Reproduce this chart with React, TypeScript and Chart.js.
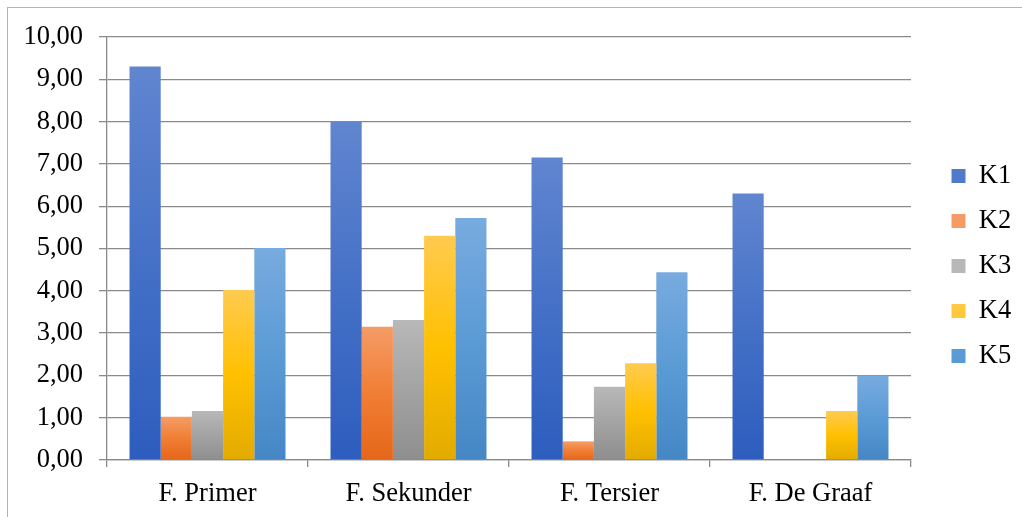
import React, { useEffect, useRef } from "react";
import { Chart, registerables } from "chart.js";

Chart.register(...registerables);

const categories = ["F. Primer", "F. Sekunder", "F. Tersier", "F. De Graaf"];
const seriesNames = ["K1", "K2", "K3", "K4", "K5"];
const k1 = [9.3, 8.0, 7.15, 6.3];
const k2 = [1.02, 3.15, 0.44, 0];
const k3 = [1.16, 3.31, 1.73, 0];
const k4 = [4.02, 5.3, 2.29, 1.16];
const k5 = [5.01, 5.72, 4.44, 2.0];
const seriesValues = [k1, k2, k3, k4, k5];
const yMin = 0;
const yMax = 10;
const yStep = 1;

// gradient stops per series: top, middle, bottom
const seriesGradients = [
  ["#6186D0", "#4470C6", "#2D5DBE"],
  ["#F59C66", "#F07E34", "#E5661A"],
  ["#B8B8B8", "#A3A3A3", "#8E8E8E"],
  ["#FFCB50", "#FFC000", "#E2AB00"],
  ["#78ABDF", "#5B9BD5", "#4586C5"],
];

const FONT = "'Liberation Serif', 'Times New Roman', serif";
const FS = 26.5;
const GRID = "#8a8a8a";

function gradientFor(idx: number) {
  return (ctx: any) => {
    const stops = seriesGradients[idx];
    if (ctx.type !== "data") return stops[1];
    const chart = ctx.chart;
    const ys = chart.scales && chart.scales.y;
    if (!ys || !chart.chartArea) return stops[1];
    const top = ys.getPixelForValue(ctx.raw);
    const bottom = ys.getPixelForValue(0);
    if (!isFinite(top) || !isFinite(bottom) || Math.abs(bottom - top) < 1) return stops[1];
    const g = chart.ctx.createLinearGradient(0, top, 0, bottom);
    g.addColorStop(0, stops[0]);
    g.addColorStop(0.5, stops[1]);
    g.addColorStop(1, stops[2]);
    return g;
  };
}

const layoutTweak = {
  id: "layoutTweak",
  beforeLayout(chart: any) {
    const lg = chart.legend;
    if (lg && !lg.__patched) {
      const orig = lg.fit.bind(lg);
      lg.fit = function () {
        orig();
        this.width = 111;
      };
      lg.__patched = true;
    }
  },
  afterLayout(chart: any) {
    const lg = chart.legend;
    if (lg) {
      lg.left += 22;
      lg.top -= 11;
      lg.bottom -= 11;
    }
  },
};

export default function App() {
  const canvasRef = useRef<HTMLCanvasElement | null>(null);

  useEffect(() => {
    if (!canvasRef.current) return;
    const chart = new Chart(canvasRef.current, {
      type: "bar",
      data: {
        labels: categories,
        datasets: seriesNames.map((name, i) => ({
          label: name,
          data: seriesValues[i],
          backgroundColor: gradientFor(i),
          borderWidth: 0,
          categoryPercentage: 0.776,
          barPercentage: 1,
        })),
      },
      options: {
        animation: false,
        responsive: true,
        maintainAspectRatio: false,
        layout: { padding: { left: 0, top: 37, right: 0, bottom: 0 } },
        plugins: {
          legend: {
            position: "right",
            align: "center",
            labels: {
              boxWidth: 14,
              boxHeight: 14,
              padding: 18.5,
              color: "#000",
              font: { family: FONT, size: FS },
            },
          },
          tooltip: { enabled: false },
        },
        scales: {
          x: {
            type: "category",
            afterFit: (scale: any) => {
              scale.height = 57;
            },
            grid: {
              display: true,
              drawOnChartArea: false,
              drawTicks: true,
              tickLength: 7,
              color: GRID,
              lineWidth: 1.3,
              offset: true,
            },
            border: { display: true, color: GRID, width: 1.3 },
            ticks: {
              color: "#000",
              font: { family: FONT, size: FS },
              padding: 11,
              maxRotation: 0,
            },
          },
          y: {
            min: yMin,
            max: yMax,
            afterFit: (scale: any) => {
              scale.width = 107;
            },
            grid: {
              color: GRID,
              lineWidth: 1.3,
              drawTicks: true,
              tickLength: 8,
            },
            border: { display: true, color: GRID, width: 1.3 },
            ticks: {
              stepSize: yStep,
              color: "#000",
              font: { family: FONT, size: FS },
              padding: 16,
              callback: (v: any) => Number(v).toFixed(2).replace(".", ","),
            },
          },
        },
      },
      plugins: [layoutTweak],
    });
    return () => chart.destroy();
  }, []);

  return (
    <div
      style={{
        position: "fixed",
        left: 0,
        top: 0,
        width: 1022,
        height: 517,
        background: "#fff",
        overflow: "hidden",
      }}
    >
      <div
        style={{
          position: "absolute",
          left: 7,
          top: 7,
          width: 1040,
          height: 540,
          border: "1px solid #b4b4b4",
        }}
      />
      <canvas
        ref={canvasRef}
        style={{ position: "absolute", left: 0, top: 0, width: 1022, height: 517 }}
      />
    </div>
  );
}
